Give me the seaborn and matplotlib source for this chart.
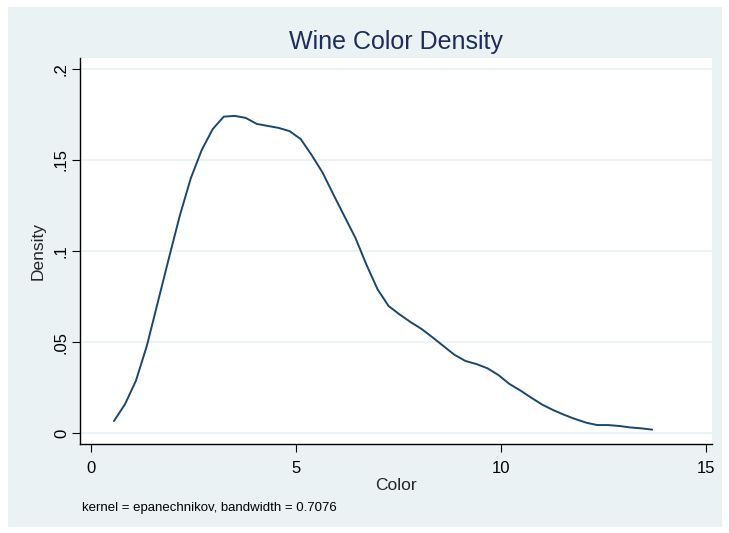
import numpy as np
import pandas as pd
import matplotlib.pyplot as plt
import seaborn as sns
from matplotlib.patches import Rectangle

# kernel density estimate (50 evaluation points)
color_pts = np.linspace(0.56, 13.69, 50)
density = [0.0066, 0.0158, 0.0287, 0.0480, 0.0720, 0.0960, 0.1195, 0.1400, 0.1556, 0.1670,
           0.1738, 0.1742, 0.1731, 0.1698, 0.1687, 0.1676, 0.1658, 0.1615, 0.1527, 0.1430,
           0.1308, 0.1189, 0.1070, 0.0923, 0.0790, 0.0698, 0.0652, 0.0610, 0.0572, 0.0526,
           0.0478, 0.0430, 0.0396, 0.0379, 0.0356, 0.0319, 0.0270, 0.0234, 0.0194, 0.0156,
           0.0126, 0.0100, 0.0077, 0.0057, 0.0044, 0.0044, 0.0039, 0.0031, 0.0026, 0.0019]

x_ticks = [0, 5, 10, 15]
y_ticks = [0, 0.05, 0.1, 0.15, 0.2]
y_labels = ['0', '.05', '.1', '.15', '.2']

df = pd.DataFrame({'Color': color_pts, 'Density': density})

sns.set_style('white')
plt.rcParams['font.family'] = ['Liberation Sans', 'DejaVu Sans']

bg = '#EAF2F3'
fig = plt.figure(figsize=(7.29, 5.33), dpi=100)
fig.patch.set_facecolor('white')
fig.patches.append(Rectangle((8 / 729, 6 / 533), 714 / 729, 520 / 533,
                             transform=fig.transFigure, facecolor=bg,
                             edgecolor='none', zorder=-10))

ax = fig.add_axes([80 / 729, 1 - 444 / 533, 632 / 729, 386 / 533])
ax.set_facecolor('white')

sns.lineplot(data=df, x='Color', y='Density', ax=ax, color='#1A476F', linewidth=1.4)

ax.set_xlim(-0.268, 15.15)
ax.set_ylim(-0.006, 0.206)
ax.set_xticks(x_ticks)
ax.set_yticks(y_ticks)
ax.set_yticklabels(y_labels, rotation=90, va='center')
ax.grid(axis='y', color=bg, linewidth=1.2)
ax.set_axisbelow(True)

for s in ['top', 'right']:
    ax.spines[s].set_visible(False)
for s in ['left', 'bottom']:
    ax.spines[s].set_color('black')
    ax.spines[s].set_linewidth(1.0)

ax.tick_params(axis='both', direction='out', length=6, width=0.8, color='black',
               labelsize=12, labelcolor='black', bottom=True, left=True)
ax.tick_params(axis='x', pad=6)
ax.tick_params(axis='y', pad=2)

ax.set_xlabel('Color', fontsize=12.5, labelpad=2)
ax.set_ylabel('Density', fontsize=12.5, labelpad=6)

fig.text(396 / 729, 1 - 42 / 533, 'Wine Color Density', ha='center', va='center',
         fontsize=18, color='#1E2C5A')
fig.text(82 / 729, 1 - 508 / 533, 'kernel = epanechnikov, bandwidth = 0.7076',
         ha='left', va='center', fontsize=9.5, color='black')

fig.savefig('out.png', dpi=100, facecolor='white')
